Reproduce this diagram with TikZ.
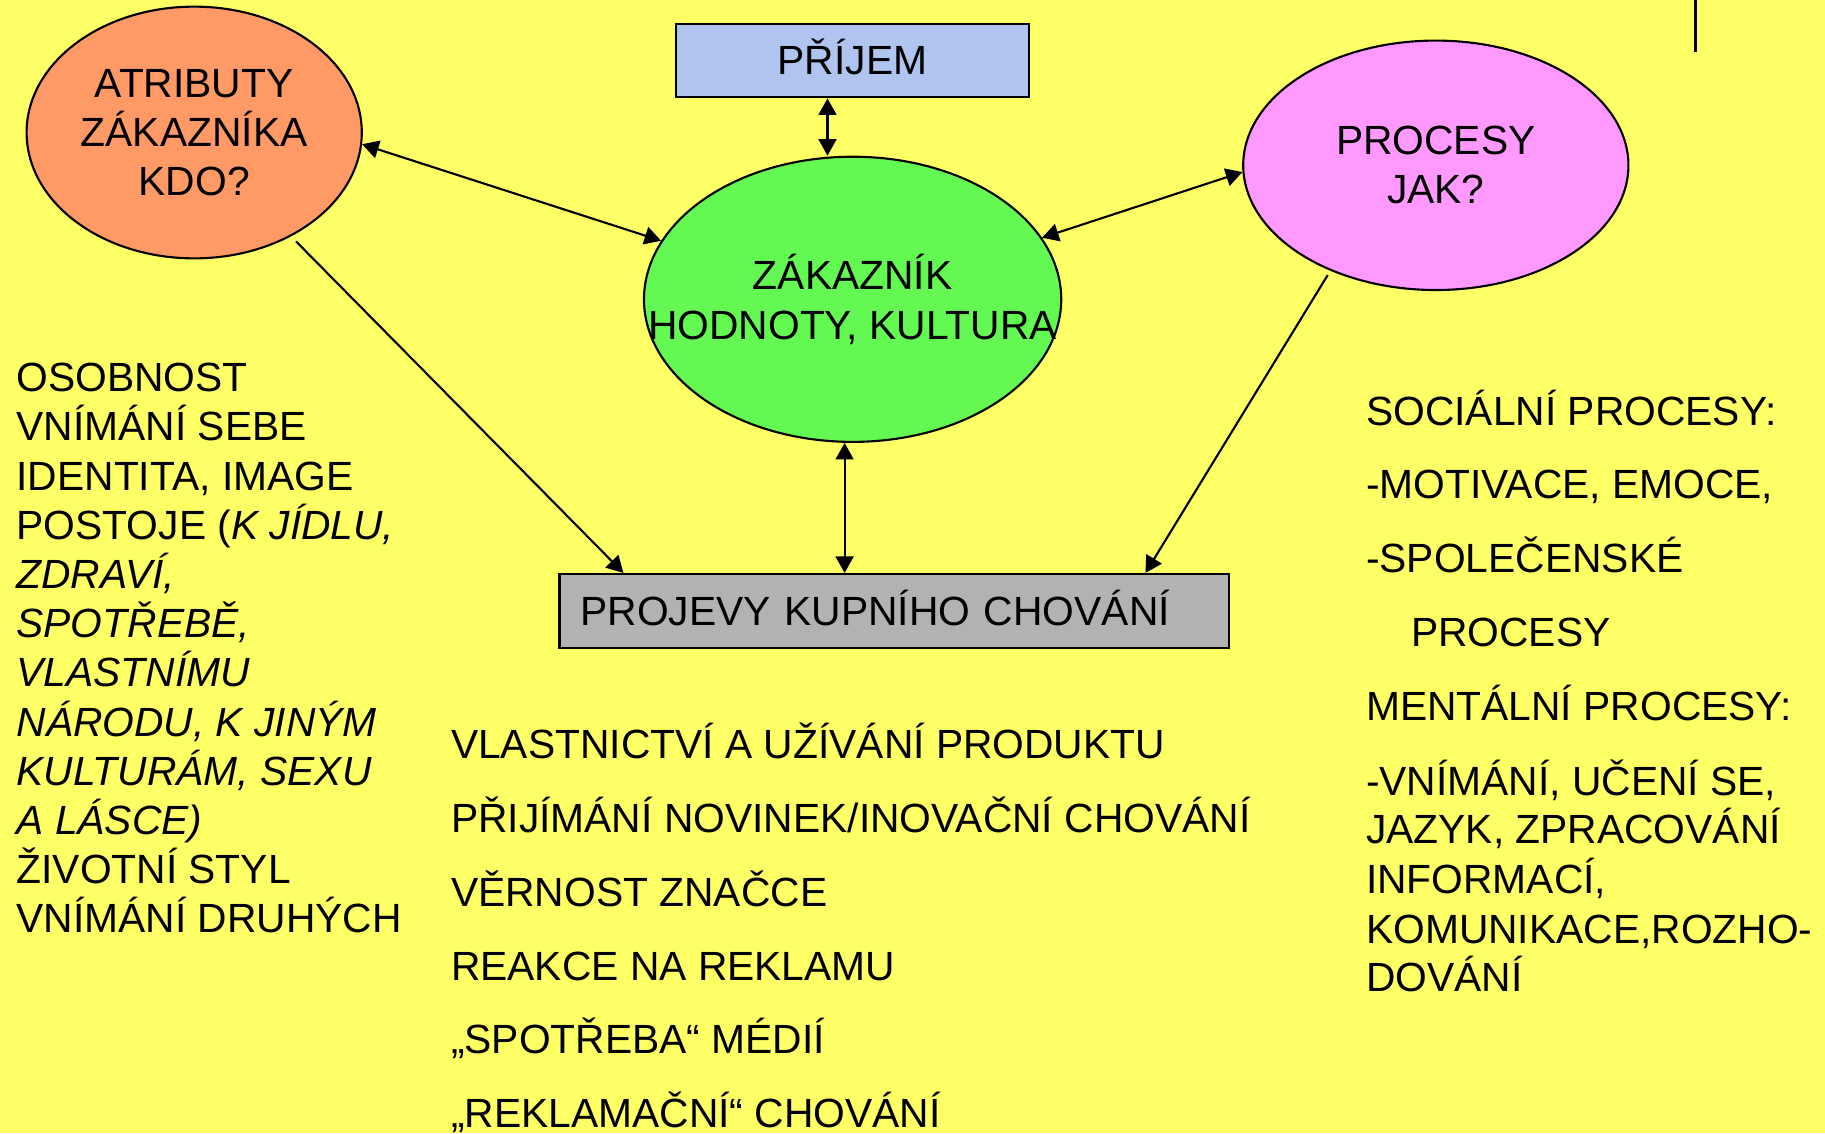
\documentclass[tikz,border=0pt]{standalone}
\usepackage{fontspec}
\setmainfont{Liberation Sans}
\usetikzlibrary{shapes.geometric}
\usetikzlibrary{arrows.meta}
\usetikzlibrary{calc}
\definecolor{pozadi}{RGB}{255,255,102}
\definecolor{oranzova}{RGB}{255,153,102}
\definecolor{zelena}{RGB}{99,248,82}
\definecolor{ruzova}{RGB}{255,153,255}
\definecolor{modra}{RGB}{176,196,240}
\definecolor{seda}{RGB}{178,178,178}
\tikzset{
	dnode/.style = {align=center, inner sep=0pt, draw=black, line width=0.6pt,
		font=\fontsize{11.6pt}{14pt}\selectfont},
	d_el/.style = {dnode, ellipse},% elipsa
	d_box/.style = {dnode, rectangle, text height=0.285cm, text depth=0pt},% obdelnik
	d_txt/.style = {anchor=base west, inner sep=0pt,
		font=\fontsize{11.6pt}{14pt}\selectfont}% volny text
}
\begin{document}
\begin{tikzpicture}[>={Triangle[length=4.7pt,width=5.1pt]}, x=0.01cm, y=-0.01cm,
		line width=0.6pt]
	\useasboundingbox (0,0) rectangle (1825,1133);
	\fill[pozadi] (0,0) rectangle (1825,1133);
	% uzly
	\node[d_box, fill=modra, minimum width=3.52cm, minimum height=0.733cm] (prijem)
		at (852.5,60.7) {PŘÍJEM};
	\node[d_el, fill=oranzova, minimum width=3.35cm, minimum height=2.516cm] (atrib)
		at (194.2,132.5) {ATRIBUTY\\ZÁKAZNÍKA\\KDO?};
	\node[d_el, fill=zelena, minimum width=4.17cm, minimum height=2.85cm] (zak)
		at (852.6,299.3) {ZÁKAZNÍK\\\makebox[0pt]{HODNOTY, KULTURA}};
	\node[d_el, fill=ruzova, minimum width=3.85cm, minimum height=2.493cm] (proc)
		at (1435.8,165.3) {PROCESY\\JAK?};
	\node[d_box, fill=seda, minimum width=6.69cm, minimum height=0.74cm,
		text width=6.27cm, align=left, inner xsep=0.21cm] (kup)
		at (894.2,611) {PROJEVY KUPNÍHO CHOVÁNÍ};
	% sipky
	\draw[<->] ([xshift=-0.25cm]prijem.south) coordinate (ps) -- (ps |- zak.north);
	\draw[<->] (atrib.-4) -- (zak.163);
	\draw[<->] (proc.182) -- (zak.18);
	\draw[<->] ([xshift=-0.08cm]zak.south) coordinate (zs) -- (zs |- kup.north);
	\draw[->, shorten <=0.07cm] (atrib.-47) -- ($(kup.north west)+(65,0)$);
	\draw[->, shorten <=0.05cm] (proc.225) -- ($(kup.north west)+(587,0)$);
	% carka vpravo nahore
	\coordinate (znak_a) at (1695.7,0);
	\coordinate (znak_b) at (1695.7,51.7);
	\draw[line width=0.75pt] (znak_a) -- (znak_b);
	% texty
	\foreach \t [count=\i] in {OSOBNOST, {VNÍMÁNÍ SEBE}, {IDENTITA, IMAGE},
		{POSTOJE (\textit{K JÍDLU,}}, {\textit{ZDRAVÍ,}}, {\textit{SPOTŘEBĚ,}},
		{\textit{VLASTNÍMU}}, {\textit{NÁRODU, K JINÝM}}, {\textit{KULTURÁM, SEXU}},
		{\textit{A LÁSCE)}}, {ŽIVOTNÍ STYL}, {VNÍMÁNÍ DRUHÝCH}}
		\node[d_txt] (atr\i) at (15.5, {391.7+49.2*(\i-1)}) {\t};
	\foreach \t [count=\i] in {{VLASTNICTVÍ A UŽÍVÁNÍ PRODUKTU},
		{PŘIJÍMÁNÍ NOVINEK/INOVAČNÍ CHOVÁNÍ}, {VĚRNOST ZNAČCE},
		{REAKCE NA REKLAMU}, {„SPOTŘEBA“ MÉDIÍ}, {„REKLAMAČNÍ“ CHOVÁNÍ}}
		\node[d_txt] (prj\i) at (450, {758.3+73.9*(\i-1)}) {\t};
	\foreach \x/\y/\t [count=\i] in {1365/425/{SOCIÁLNÍ PROCESY:},
		1365/498.5/{-MOTIVACE, EMOCE,}, 1365/572.7/{-SPOLEČENSKÉ},
		1410/646.7/{PROCESY}, 1365/720/{MENTÁLNÍ PROCESY:},
		1365/795/{-VNÍMÁNÍ, UČENÍ SE,}, 1365/843.3/{JAZYK, ZPRACOVÁNÍ},
		1365/893.3/{INFORMACÍ,}, 1365/943.3/{KOMUNIKACE,ROZHO-},
		1365/991.7/{DOVÁNÍ}}
		\node[d_txt] (prc\i) at (\x,\y) {\t};
\end{tikzpicture}
\end{document}
